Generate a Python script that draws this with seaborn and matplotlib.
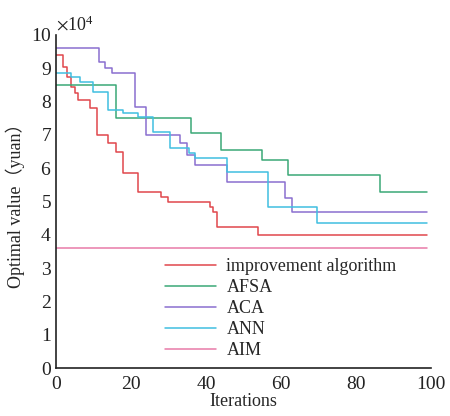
import numpy as np
import pandas as pd
import matplotlib
matplotlib.use('Agg')
import matplotlib.pyplot as plt
import seaborn as sns

# valores (unidades de 10^4 yuan)
iters_improve = [0, 2, 3, 4, 5, 6, 9, 11, 14, 16, 18, 22, 28, 30, 41, 42, 43, 54, 99]
vals_improve = [9.4, 9.05, 8.75, 8.45, 8.25, 8.05, 7.8, 7.0, 6.75, 6.5, 5.85, 5.3, 5.15, 5.0, 4.85, 4.7, 4.25, 4.0, 4.0]

iters_afsa = [0, 16, 36, 44, 55, 62, 86.5, 99]
vals_afsa = [8.5, 7.5, 7.05, 6.55, 6.25, 5.8, 5.3, 5.3]

iters_aca = [0, 11.5, 13, 15, 21, 24, 33, 35, 37, 45.5, 61, 63, 99]
vals_aca = [9.6, 9.2, 9.0, 8.85, 7.85, 7.0, 6.75, 6.4, 6.1, 5.6, 5.1, 4.7, 4.7]

iters_ann = [0, 4, 6.5, 10, 14, 18, 22, 26, 30.5, 35.5, 37, 45.5, 56.5, 69.5, 99]
vals_ann = [8.85, 8.75, 8.6, 8.3, 7.75, 7.65, 7.55, 7.1, 6.6, 6.45, 6.3, 5.9, 4.85, 4.35, 4.35]

iters_aim = [0, 99]
vals_aim = [3.6, 3.6]

labels = ['improvement algorithm', 'AFSA', 'ACA', 'ANN', 'AIM']
colors = ['#e0474c', '#3aa876', '#8a6fd0', '#40bfe0', '#e87aa8']

series = [(iters_improve, vals_improve), (iters_afsa, vals_afsa), (iters_aca, vals_aca),
          (iters_ann, vals_ann), (iters_aim, vals_aim)]
frames = []
for lab, (it, v) in zip(labels, series):
    frames.append(pd.DataFrame({'Iterations': it, 'value': np.array(v) * 1e4, 'alg': lab}))
df = pd.concat(frames, ignore_index=True)

sns.set_style('white')
plt.rcParams['font.family'] = ['Liberation Serif', 'Noto Sans CJK SC']
plt.rcParams['mathtext.fontset'] = 'stix'

fig = plt.figure(figsize=(4.5, 4.16), dpi=100)
ax = fig.add_axes([0.124, 0.115, 0.834, 0.801])
sns.lineplot(data=df, x='Iterations', y='value', hue='alg', hue_order=labels,
             palette=colors, drawstyle='steps-post', linewidth=1.1, ax=ax, sort=False,
             estimator=None)

ax.set_xlim(0, 100)
ax.set_ylim(0, 1e5)
ax.set_xticks([0, 20, 40, 60, 80, 100])
ax.set_yticks(np.arange(0, 11) * 1e4)
ax.ticklabel_format(axis='y', style='sci', scilimits=(4, 4), useMathText=True)
ax.yaxis.get_offset_text().set_fontsize(13)
ax.tick_params(direction='in', length=4, width=1.0, labelsize=14, colors='#222222', pad=3)
ax.tick_params(axis='x', pad=6)
for s in ['top', 'right']:
    ax.spines[s].set_visible(False)
for s in ['left', 'bottom']:
    ax.spines[s].set_linewidth(1.2)
    ax.spines[s].set_color('#222222')

ax.set_xlabel('Iterations', fontsize=13, labelpad=0)
ax.set_ylabel('Optimal value（yuan）', fontsize=13, labelpad=4)

ax.legend(frameon=False, loc='upper left', bbox_to_anchor=(165 / 450, 1 - 258 / 416),
          bbox_transform=fig.transFigure, fontsize=13, handlelength=2.8, handletextpad=0.6,
          labelspacing=0.22, borderpad=0, borderaxespad=0)

plt.savefig('out.png', dpi=100)
plt.close()
